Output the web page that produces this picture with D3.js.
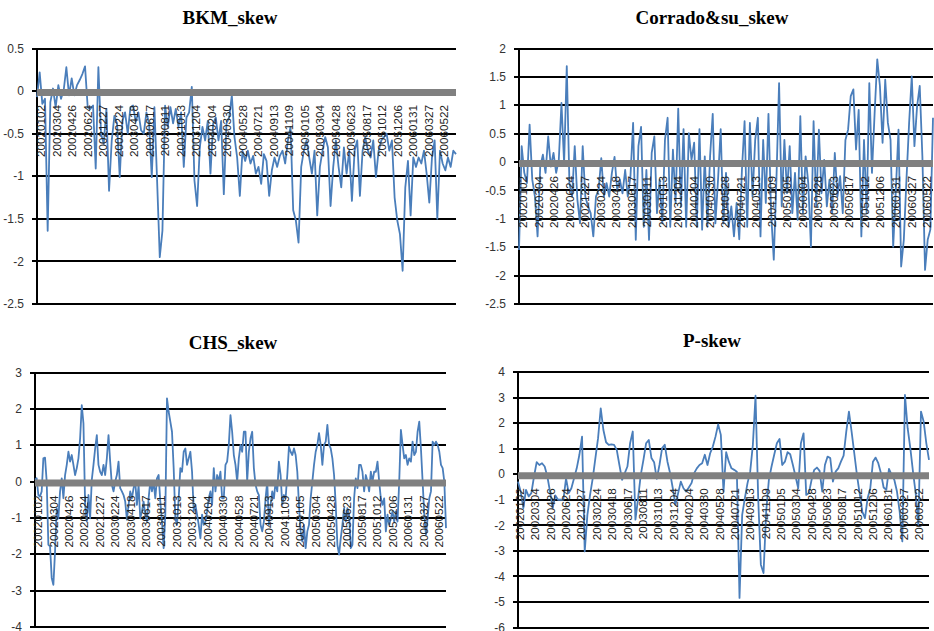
<!doctype html>
<html lang='en'>
<head>
<meta charset='utf-8'>
<title>Skew measures</title>
<script src='https://cdn.jsdelivr.net/npm/d3@7'></script>
<style>
    body { margin: 0; background: #fff; }
    .grid { stroke: #000; stroke-width: 2px; shape-rendering: crispEdges; }
    .axis-line { stroke: #000; stroke-width: 2px; shape-rendering: crispEdges; }
    .zero-line { stroke: #808080; stroke-width: 7px; }
    .series { fill: none; stroke: #4a7ebb; stroke-width: 1.8px; stroke-linejoin: round; }
    .tick-label { font: 12px 'Liberation Sans', Arial, sans-serif; fill: #333; }
    .date-label { font: 11.7px 'Liberation Sans', Arial, sans-serif; fill: #222; }
    .title { font: bold 19px 'Liberation Serif', 'Times New Roman', serif; fill: #000; }
</style>
</head>
<body>
<svg id='chart' width='934' height='631'></svg>
<script>
const dateLabels = ['20020102', '20020304', '20020426', '20020624', '20021227', '20030224', '20030418',
    '20030617', '20030811', '20031013', '20031204', '20040204', '20040330', '20040528', '20040721',
    '20040913', '20041109', '20050105', '20050304', '20050428', '20050623', '20050817', '20051012',
    '20051206', '20060131', '20060327', '20060522'];

const bkmSkew = [
    -0.07, 0.22, -0.15, -0.09, -1.64, -0.13, 0.03, -0.19, 0.07, -0.09,
    0.01, 0.28, -0.05, 0.15, -0.05, 0.07, 0.13, 0.20, 0.29, -0.19,
    -0.21, -0.17, -0.91, 0.28, -0.50, -0.62, -0.21, -1.17, -0.58, -0.29,
    -0.38, -1.01, -0.35, -0.25, -0.50, -0.19, -0.17, -0.36, -0.25, -0.46,
    -0.50, -0.25, -0.38, -1.01, -0.19, -1.05, -1.95, -1.64, -0.17, -0.42,
    -0.19, -0.38, -0.21, -0.42, -0.25, -0.89, -0.31, -0.25, 0.05, -1.05,
    -1.35, -0.66, -0.42, -0.58, -0.35, -0.97, -0.38, -0.31, -0.58, -0.35,
    -1.21, -0.38, -0.31, -0.05, -0.54, -0.78, -1.23, -0.70, -0.82, -0.70,
    -0.85, -0.76, -0.97, -0.89, -1.09, -0.74, -0.82, -1.23, -0.93, -0.78,
    -0.89, -0.76, -0.70, -0.85, -0.58, -0.42, -1.40, -1.52, -1.78, -0.89,
    -0.70, -0.58, -0.78, -0.97, -0.70, -1.46, -0.89, -0.70, -0.54, -0.66,
    -1.35, -0.89, -0.58, -0.89, -1.13, -0.66, -0.97, -0.70, -1.29, -0.70,
    -0.58, -1.23, -0.70, -0.54, -0.70, -0.78, -0.58, -1.01, -0.70, -0.58,
    -0.54, -0.50, -0.70, -0.58, -1.25, -1.52, -1.68, -2.11, -1.13, -0.82,
    -1.46, -0.78, -0.89, -0.78, -0.85, -0.70, -0.97, -1.31, -0.78, -0.58,
    -1.50, -0.70, -0.85, -0.93, -0.78, -0.89, -0.70, -0.74
];

const corradoSkew = [
    -1.55, 0.28, -0.19, -0.37, 0.66, -0.31, -0.61, -1.31, -0.08, 0.13,
    -0.19, 0.45, -0.08, 0.16, -0.19, 0.04, 1.04, -0.02, 1.69, -0.37,
    -0.61, 0.28, -0.66, -1.08, 0.28, -0.61, -0.78, -0.90, -1.31, -0.61,
    -0.49, 0.07, -0.61, -0.37, -0.61, -0.19, 0.09, -0.49, -0.31, -0.55,
    -0.14, -0.61, -0.25, 0.69, -1.37, 0.28, 0.62, -1.14, -0.14, -1.37,
    0.16, 0.45, -0.90, -0.31, -1.08, 0.39, 0.78, -1.14, 0.22, -0.72,
    0.94, -0.78, 0.58, -1.14, 0.51, 0.04, 0.34, -1.14, 0.58, -1.19,
    0.10, -1.14, 0.10, 0.85, -1.08, -0.31, 0.58, -1.08, -0.19, -1.14,
    -0.78, -1.31, -0.72, -1.36, -0.14, 0.72, -1.14, 0.69, -0.61, 0.39,
    0.78, -1.31, 0.39, -0.72, 0.85, -0.90, -1.72, -0.31, 1.39, -0.78,
    0.39, -0.55, 0.28, -0.90, -0.19, -1.02, 0.81, -0.90, 0.10, -0.37,
    -1.49, 0.72, -0.78, 0.57, -0.55, 0.04, -0.78, -0.31, -0.90, 0.16,
    -0.61, -0.25, -0.90, 0.39, 0.57, 1.16, 1.28, 0.22, 0.92, -1.31,
    0.39, -0.90, 1.39, -0.19, 0.86, 1.81, 1.34, 0.34, 1.45, 0.69,
    0.39, -1.49, -0.49, 0.57, -1.84, -1.37, -0.31, 0.69, 1.51, 0.28,
    0.98, 1.34, 0.10, -1.90, -1.37, -1.19, 0.78
];

const chsSkew = [
    0.05, 0.09, -0.37, -0.41, -0.27, 0.64, 0.66, 0.00, -1.74, -1.78,
    -2.65, -2.84, -1.92, -0.73, -1.01, -0.27, 0.09, -0.46, 0.18, 0.46,
    0.82, 0.55, 0.73, 0.46, 0.18, 0.37, 0.64, 1.19, 2.10, 1.60,
    -0.64, -1.10, -0.37, -1.01, 0.05, 0.46, 0.91, 1.28, 0.46, 0.27,
    0.18, 0.46, 0.18, 0.64, 1.28, 0.55, -0.09, -0.27, 0.00, 0.18,
    0.55, -0.18, -0.27, -0.37, -0.55, -1.05, -0.64, -0.27, -0.46, -0.18,
    0.00, -0.64, -0.09, -1.01, -0.82, -0.55, -0.91, -1.10, -0.46, 0.00,
    -0.27, 0.00, -0.46, 0.09, 0.18, -0.55, -1.10, -1.83, -0.91, 2.29,
    1.92, 1.65, 1.37, 0.37, -1.01, -1.19, -0.46, 0.37, 0.27, 0.82,
    0.91, 0.46, 0.64, 0.82, 0.27, -0.82, -0.64, -0.91, -1.19, -1.56,
    -0.91, -1.19, -1.10, -0.82, -0.46, -0.27, -0.64, 0.37, -0.27, 0.18,
    0.00, 0.27, -0.46, -0.46, 0.46, 0.55, 1.01, 1.83, 1.37, 0.73,
    0.46, 0.00, 0.64, 1.01, 0.82, 1.37, 1.37, 0.00, 0.82, 1.19,
    1.37, 0.37, -0.09, -0.27, -0.37, -1.19, -1.37, -1.10, -0.46, 0.00,
    -1.19, -0.64, -0.27, -0.46, 0.00, -0.27, 0.55, 0.18, -0.64, -0.37,
    -0.46, 0.18, 0.96, 0.82, 0.73, 0.91, 0.73, 0.27, -0.64, -1.37,
    -1.65, -1.19, -1.83, -1.37, -1.19, -0.46, 0.00, 0.46, 0.82, 1.01,
    1.33, 1.01, 0.46, 1.01, 1.10, 1.56, 1.01, 0.91, 0.64, 0.18,
    -0.64, -1.74, -2.01, -1.56, -1.19, -0.73, -1.10, -0.73, -0.91, -1.83,
    -1.74, -0.46, 0.09, -0.18, 0.46, 0.46, 0.27, -0.27, 0.18, 0.00,
    -0.27, 0.27, 0.00, 0.27, 0.27, 0.55, 0.00, -0.46, -0.64, -0.46,
    -1.37, -0.91, -1.19, -1.01, -0.82, -1.10, -0.82, -1.10, 0.00, 1.42,
    1.01, 0.64, 0.73, 0.46, 0.64, 0.55, 1.10, 0.73, 0.82, 1.37,
    1.65, 0.91, 0.00, -0.91, -1.46, -1.01, -0.46, -0.27, 1.10, 1.01,
    1.10, 1.01, 0.82, 0.46, 0.37, 0.00, -1.28
];

const pSkew = [
    -0.29, -0.68, -1.33, -0.61, -0.87, -0.74, -0.09, 0.47, 0.36, 0.43,
    0.30, -0.09, -0.68, -1.33, -0.83, -1.00, -1.00, -1.00, -0.16, -0.74,
    -0.55, -0.16, 0.23, 0.76, 1.47, -3.02, -1.59, -0.81, -0.16, 0.63,
    1.41, 2.58, 1.73, 1.25, 1.15, 1.17, 1.15, 0.95, 0.36, -0.22,
    0.04, 0.30, 1.21, 1.67, -1.78, -0.94, -0.03, 0.56, 1.21, 1.34,
    0.63, 0.47, -0.18, 0.36, 1.02, 1.15, 0.49, 0.04, -0.55, -1.20,
    -0.74, -0.29, -0.55, -0.68, -0.52, -0.35, 0.04, 0.23, 0.36, 0.43,
    0.76, 0.36, 0.82, 1.08, 1.47, 1.95, 1.54, -0.68, 0.86, 0.49,
    0.23, 0.17, 0.10, -4.84, -1.59, -0.94, -0.35, 0.10, 1.15, 3.07,
    -0.94, -3.54, -3.87, -1.46, -0.22, 0.30, 0.76, 1.21, 1.38, 0.36,
    0.49, 0.86, 0.78, 0.36, -0.09, -0.55, 1.21, 1.60, -0.81, -0.74,
    -0.22, 0.17, 0.26, 0.13, -0.68, 0.36, 0.69, 0.63, -0.29, 0.10,
    0.23, 0.49, 0.73, 1.67, 2.45, 1.67, 0.82, -0.03, -0.74, -1.46,
    -1.72, -0.94, -0.55, 0.49, 0.65, 0.43, 0.04, -0.52, -0.61, 0.21,
    -0.03, -0.22, -0.68, -1.46, -2.63, 3.10, 1.80, 1.02, 0.10, -0.74,
    -1.98, 2.45, 2.06, 1.21, 0.56
];

const bkmTicks = [0.5, 0, -0.5, -1, -1.5, -2, -2.5];
const corradoTicks = [2, 1.5, 1, 0.5, 0, -0.5, -1, -1.5, -2, -2.5];
const chsTicks = [3, 2, 1, 0, -1, -2, -3, -4];
const pTicks = [4, 3, 2, 1, 0, -1, -2, -3, -4, -5, -6];

// placement of each of the four Excel-style panels
const panels = [
    { title: 'BKM_skew', values: bkmSkew, ticks: bkmTicks,
      left: 37, right: 456, top: 48.5, bottom: 304, titleX: 230, titleY: 24, labelFrom: 41, labelTo: 444 },
    { title: 'Corrado&su_skew', values: corradoSkew, ticks: corradoTicks,
      left: 519, right: 933, top: 48.5, bottom: 304, titleX: 712, titleY: 24, labelFrom: 523, labelTo: 927 },
    { title: 'CHS_skew', values: chsSkew, ticks: chsTicks,
      left: 35, right: 446, top: 372.5, bottom: 627, titleX: 233, titleY: 349, labelFrom: 38, labelTo: 439 },
    { title: 'P-skew', values: pSkew, ticks: pTicks,
      left: 518, right: 929, top: 372, bottom: 627.5, titleX: 712, titleY: 347, labelFrom: 520, labelTo: 919 }
];

const svg = d3.select('#chart');

function drawPanel(p) {
    const g = svg.append('g');

    const x = d3.scaleLinear().domain([0, p.values.length - 1]).range([p.left, p.right]);
    const y = d3.scaleLinear().domain(d3.extent(p.ticks)).range([p.bottom, p.top]);
    const xl = d3.scalePoint().domain(dateLabels).range([p.labelFrom, p.labelTo]);

    // horizontal gridlines, snapped to whole pixels so they stay solid black
    g.selectAll('.grid')
        .data(p.ticks)
        .enter()
        .append('line')
        .classed('grid', true)
        .attr('x1', p.left)
        .attr('x2', p.right)
        .attr('y1', d => Math.round(y(d)))
        .attr('y2', d => Math.round(y(d)));

    // tick marks and tick labels
    g.selectAll('.tick-mark')
        .data(p.ticks)
        .enter()
        .append('line')
        .classed('axis-line', true)
        .attr('x1', p.left - 5)
        .attr('x2', p.left)
        .attr('y1', d => Math.round(y(d)))
        .attr('y2', d => Math.round(y(d)));

    g.selectAll('.tick-label')
        .data(p.ticks)
        .enter()
        .append('text')
        .classed('tick-label', true)
        .attr('x', p.left - 13)
        .attr('y', d => y(d))
        .attr('dy', '0.35em')
        .attr('text-anchor', 'end')
        .text(d => String(d));

    g.append('line')
        .classed('axis-line', true)
        .attr('x1', p.left)
        .attr('x2', p.left)
        .attr('y1', Math.round(p.top) - 1)
        .attr('y2', Math.round(p.bottom) + 1);

    const line = d3.line()
        .x((d, i) => x(i))
        .y(d => y(d));

    g.append('path')
        .datum(p.values)
        .classed('series', true)
        .attr('d', line);

    // thick grey category axis sitting on zero
    g.append('line')
        .classed('zero-line', true)
        .attr('x1', p.left)
        .attr('x2', p.right)
        .attr('y1', y(0) + 1.5)
        .attr('y2', y(0) + 1.5);

    g.selectAll('.date-label')
        .data(dateLabels)
        .enter()
        .append('text')
        .classed('date-label', true)
        .attr('transform', d => `translate(${xl(d)},${y(0) + 14}) rotate(-90)`)
        .attr('dy', '0.35em')
        .attr('text-anchor', 'end')
        .text(d => d);

    g.append('text')
        .classed('title', true)
        .attr('x', p.titleX)
        .attr('y', p.titleY)
        .attr('text-anchor', 'middle')
        .text(p.title);
}

panels.forEach(drawPanel);
</script>
</body>
</html>
